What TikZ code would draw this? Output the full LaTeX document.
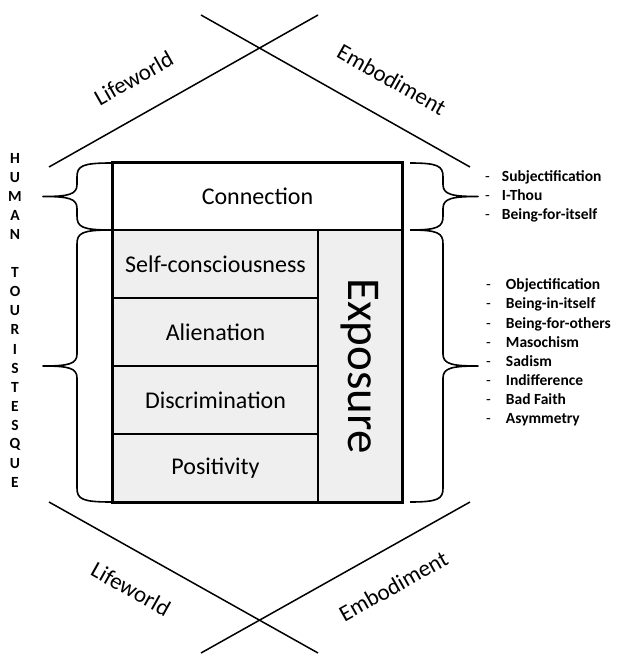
\documentclass[tikz,border=0pt]{standalone}
\usepackage{fontspec}
\setmainfont{Carlito}
\definecolor{boxgray}{RGB}{239,239,239}
\newcommand{\curlybrace}[6]{% end x, spine x, tip x, top y, bottom y, mid y
\draw[brace] (#1,#4) .. controls ({#2+0.15*(#1-#2)},#4) and (#2,{#4+3}) .. (#2,{#4+14})
  -- (#2,{#6-12}) .. controls (#2,{#6-2}) and ({#2+0.25*(#3-#2)},#6) .. (#3,#6)
  .. controls ({#2+0.25*(#3-#2)},#6) and (#2,{#6+2}) .. (#2,{#6+12})
  -- (#2,{#5-14}) .. controls (#2,{#5-3}) and ({#2+0.15*(#1-#2)},#5) .. (#1,#5);}
\begin{document}
\begin{tikzpicture}[x=1pt,y=-1pt,
  cell/.style={draw, line width=1.6pt, fill=boxgray, inner sep=0pt,
    minimum width=205pt, minimum height=68pt, font=\fontsize{24}{28}\selectfont},
  cross/.style={line width=1.5pt},
  brace/.style={line width=1.6pt, line join=round},
  side/.style={inner sep=0pt, font=\fontsize{23}{27}\selectfont},
  letter/.style={inner sep=0pt, font=\fontsize{15.5}{19}\selectfont\bfseries},
  items/.style={inner sep=0pt, anchor=west, align=left, font=\fontsize{15.5}{19.1}\selectfont\bfseries}]
\useasboundingbox (0,0) rectangle (617,655);
% the box
\node[cell, fill=white, minimum width=289pt, minimum height=67pt] (conn) at (257.5,196.5) {Connection};
\node[cell] (selfc) at (215.5,264) {Self-consciousness};
\node[cell] (alien) at (215.5,332) {Alienation};
\node[cell] (discr) at (215.5,400) {Discrimination};
\node[cell] (posit) at (215.5,468) {Positivity};
\node[cell, rotate=-90, minimum width=272pt, minimum height=84pt,
  font=\fontsize{47}{50}\selectfont] (expo) at (360,366) {Exposure};
\draw[line width=2.6pt] (conn.north west) rectangle (conn.east |- posit.south);
% lines
\coordinate (tl1) at (49,167);  \coordinate (tl2) at (318,15);
\coordinate (tr1) at (201,15);  \coordinate (tr2) at (470,167);
\coordinate (bl1) at (49,502);  \coordinate (bl2) at (318,653);
\coordinate (br1) at (201,653); \coordinate (br2) at (470,502);
\draw[cross] (tl1) -- node[side, sloped, above=27pt, pos=0.38] (lwt) {Lifeworld} (tl2);
\draw[cross] (tr1) -- node[side, sloped, above=29pt, pos=0.64] (emt) {Embodiment} (tr2);
\draw[cross] (bl1) -- node[side, sloped, below=27pt, pos=0.37] (lwb) {Lifeworld} (bl2);
\draw[cross] (br1) -- node[side, sloped, below=27pt, pos=0.65] (emb) {Embodiment} (br2);
% braces
\curlybrace{111}{77}{43}{163}{230}{196.5}
\curlybrace{111}{77}{43}{230}{502}{366}
\curlybrace{410}{443}{478}{163}{230}{196.5}
\curlybrace{410}{443}{478}{230}{502}{366}
% left letters
\foreach \c [count=\i] in {H,U,M,A,N,{},T,O,U,R,I,S,T,E,S,Q,U,E}
  \node[letter] (c\i) at (15,{158+19.1*(\i-1)}) {\c};
% right lists
\node[items] (subj) at (485,196) {\textmd{-}\hspace{12pt}Subjectification\\
  \textmd{-}\hspace{12pt}I-Thou\\
  \textmd{-}\hspace{12pt}Being-for-itself};
\node[items] (objc) at (486,352.5) {\textmd{-}\hspace{15pt}Objectification\\
  \textmd{-}\hspace{15pt}Being-in-itself\\
  \textmd{-}\hspace{15pt}Being-for-others\\
  \textmd{-}\hspace{15pt}Masochism\\
  \textmd{-}\hspace{15pt}Sadism\\
  \textmd{-}\hspace{15pt}Indifference\\
  \textmd{-}\hspace{15pt}Bad Faith\\
  \textmd{-}\hspace{15pt}Asymmetry};
\end{tikzpicture}
\end{document}
